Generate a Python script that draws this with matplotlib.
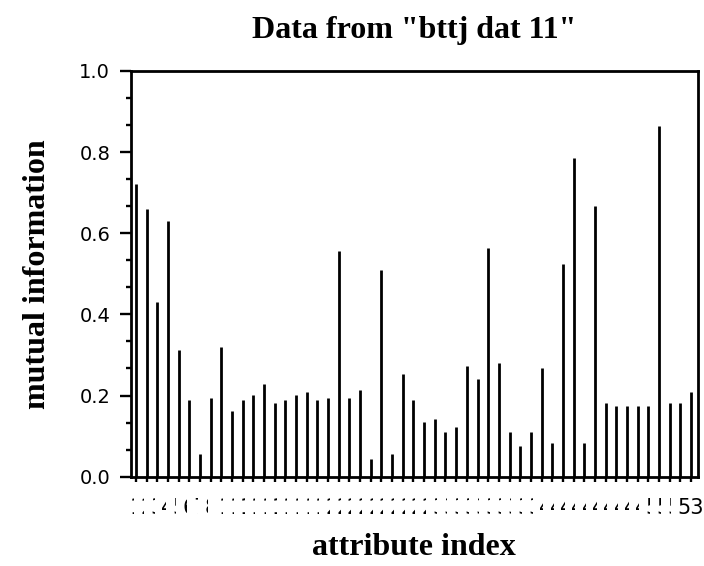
import matplotlib
matplotlib.use("Agg")
import matplotlib.pyplot as plt
from matplotlib.ticker import MultipleLocator
import numpy as np

# Données : information mutuelle par attribut
attr_index = list(range(1, 54))
mutual_info = [
    0.721, 0.661, 0.431, 0.629, 0.312, 0.188, 0.057, 0.195, 0.320, 0.162,
    0.188, 0.201, 0.228, 0.182, 0.188, 0.201, 0.208, 0.188, 0.195, 0.556,
    0.195, 0.214, 0.044, 0.510, 0.057, 0.254, 0.188, 0.136, 0.142, 0.109,
    0.122, 0.274, 0.241, 0.563, 0.280, 0.109, 0.076, 0.109, 0.267, 0.083,
    0.523, 0.786, 0.083, 0.668, 0.182, 0.175, 0.175, 0.175, 0.175, 0.865,
    0.182, 0.182, 0.208,
]
tick_labels = [str(i) for i in attr_index]

fig = plt.figure(figsize=(7.04, 5.66), dpi=100)
ax = fig.add_axes([0.1861, 0.1578, 0.8049, 0.7168])

ax.vlines(attr_index, 0, mutual_info, color="black", linewidth=2.0)

ax.set_xlim(0.53, 53.63)
ax.set_ylim(0, 1.0)

for side in ["left", "right", "top", "bottom"]:
    ax.spines[side].set_linewidth(2.0)

# Axe Y : graduations majeures et mineures
ax.yaxis.set_major_locator(MultipleLocator(0.2))
ax.yaxis.set_minor_locator(MultipleLocator(0.2 / 3))
ax.yaxis.set_major_formatter(plt.FuncFormatter(lambda v, p: f"{v:.1f}"))
ax.tick_params(axis="y", which="major", direction="out", length=8, width=1.7,
               pad=7, labelsize=14)
ax.tick_params(axis="y", which="minor", direction="out", length=3.5, width=1.7)

# Axe X : une étiquette par attribut, chacune masque la précédente
ax.set_xticks(attr_index)
ax.set_xticklabels(tick_labels)
ax.tick_params(axis="x", which="major", direction="out", length=3.5, width=1.7,
               pad=12, labelsize=15)
for lab in ax.get_xticklabels():
    lab.set_bbox(dict(facecolor="white", edgecolor="none", pad=4.5))

ax.set_title('Data from "bttj dat 11"', family="Liberation Serif",
             fontweight="bold", fontsize=23, pad=24)
ax.set_ylabel("mutual information", family="Liberation Serif",
              fontweight="bold", fontsize=23, labelpad=20)
ax.set_xlabel("attribute index", family="Liberation Serif",
              fontweight="bold", fontsize=23, labelpad=11)

fig.savefig("out.png", dpi=100)
